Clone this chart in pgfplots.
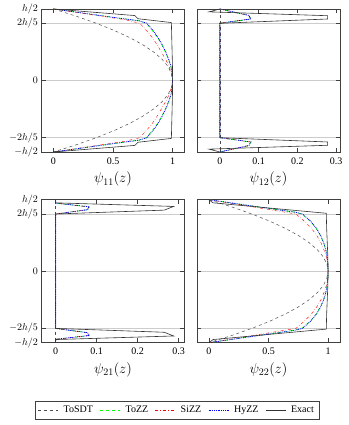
\documentclass[border=0pt]{standalone}
\usepackage{fontspec}
\setmainfont{Liberation Serif}
\usepackage{pgfplots}
\pgfplotsset{compat=1.18}
\pgfplotsset{
  psiax/.style={
    scale only axis, width=143pt, height=143pt,
    anchor=south west,
    ymin=-0.5, ymax=0.5,
    ytick={-0.5,-0.4,0,0.4,0.5},
    yticklabels={$-h/2$,$-2h/5$,$0$,$2h/5$,$h/2$},
    ymajorgrids, grid style={black!20, line width=0.6pt},
    axis line style={black!75, line width=0.8pt},
    tick style={black!75, line width=0.5pt},
    tick label style={font=\normalsize},
    /pgf/number format/assume math mode=true,
    xticklabel style={yshift=-2pt},
    xlabel style={font=\Large, yshift=-1pt},
    legend image code/.code={\draw[mark repeat=2,mark phase=2] plot coordinates {(0pt,0pt) (10pt,0pt) (20pt,0pt)};},
  },
  sdt/.style={black!70, dashed, line width=0.5pt},
  tzz/.style={green, dashed, line width=0.7pt},
  szz/.style={red, dash dot, line width=0.4pt},
  hzz/.style={blue, densely dotted, line width=0.8pt},
  exa/.style={black!80, line width=0.6pt},
}
\begin{document}
\begin{tikzpicture}
\useasboundingbox (0pt,0pt) rectangle (348pt,425pt);
% ---------------- psi_11
\begin{axis}[psiax, at={(41.5pt,273pt)}, xmin=-0.1, xmax=1.1, xtick={0,0.5,1}, xlabel={$\psi_{11}(z)$}]
\addplot[sdt] coordinates {(0,0.5) (0.19,0.45) (0.36,0.4) (0.51,0.35) (0.64,0.3) (0.75,0.25) (0.84,0.2) (0.91,0.15) (0.96,0.1) (0.99,0.05) (1,0) (0.99,-0.05) (0.96,-0.1) (0.91,-0.15) (0.84,-0.2) (0.75,-0.25) (0.64,-0.3) (0.51,-0.35) (0.36,-0.4) (0.19,-0.45) (0,-0.5)};
\addplot[tzz] coordinates {(0,0.5) (0.36,0.458) (0.72,0.417) (0.78,0.4) (0.83,0.35) (0.875,0.3) (0.91,0.25) (0.94,0.2) (0.965,0.15) (0.985,0.1) (0.996,0.05) (1,0) (0.996,-0.05) (0.985,-0.1) (0.965,-0.15) (0.94,-0.2) (0.91,-0.25) (0.875,-0.3) (0.83,-0.35) (0.78,-0.4) (0.72,-0.417) (0.36,-0.458) (0,-0.5)};
\addplot[szz] coordinates {(0,0.5) (0.36,0.455) (0.6,0.425) (0.725,0.4) (0.78,0.35) (0.83,0.3) (0.87,0.25) (0.905,0.2) (0.94,0.15) (0.97,0.1) (0.99,0.05) (1,0) (0.99,-0.05) (0.97,-0.1) (0.94,-0.15) (0.905,-0.2) (0.87,-0.25) (0.83,-0.3) (0.78,-0.35) (0.725,-0.4) (0.6,-0.425) (0.36,-0.455) (0,-0.5)};
\addplot[hzz] coordinates {(0,0.5) (0.36,0.458) (0.72,0.417) (0.785,0.4) (0.835,0.35) (0.878,0.3) (0.912,0.25) (0.942,0.2) (0.966,0.15) (0.986,0.1) (0.996,0.05) (1,0) (0.996,-0.05) (0.986,-0.1) (0.966,-0.15) (0.942,-0.2) (0.912,-0.25) (0.878,-0.3) (0.835,-0.35) (0.785,-0.4) (0.72,-0.417) (0.36,-0.458) (0,-0.5)};
\addplot[exa] coordinates {(0,0.5) (0.683,0.454) (0.71,0.432) (0.99,0.405) (0.99,0.4) (0.993,0.3) (0.996,0.2) (0.999,0.1) (1,0) (0.999,-0.1) (0.996,-0.2) (0.993,-0.3) (0.99,-0.4) (0.99,-0.405) (0.71,-0.432) (0.683,-0.454) (0,-0.5)};
\end{axis}
% ---------------- psi_12
\begin{axis}[psiax, at={(197pt,273pt)}, xmin=-0.059, xmax=0.31, xtick={0,0.1,0.2,0.3}, yticklabels={}, xlabel={$\psi_{12}(z)$}]
\addplot[sdt] coordinates {(0,0.5) (0,-0.5)};
\addplot[tzz] coordinates {(0,0.5) (0.075,0.455) (0.08,0.43) (0,0.4) (0,-0.4) (0.08,-0.43) (0.075,-0.455) (0,-0.5)};
\addplot[szz] coordinates {(0,0.5) (0.074,0.455) (0.079,0.43) (0,0.4) (0,-0.4) (0.079,-0.43) (0.074,-0.455) (0,-0.5)};
\addplot[hzz] coordinates {(0,0.5) (0.075,0.455) (0.08,0.43) (0,0.4) (0,-0.4) (0.08,-0.43) (0.075,-0.455) (0,-0.5)};
\addplot[exa] coordinates {(0,0.5) (-0.028,0.48) (0.278,0.453) (0.278,0.43) (0,0.4) (0,-0.4) (0.278,-0.43) (0.278,-0.453) (-0.028,-0.48) (0,-0.5)};
\end{axis}
% ---------------- psi_21
\begin{axis}[psiax, at={(41.5pt,82.3pt)}, xmin=-0.0345, xmax=0.3145, xtick={0,0.1,0.2,0.3}, xlabel={$\psi_{21}(z)$},
  legend columns=5,
  legend style={at={(0.9476,-0.472)}, anchor=center, font=\normalsize, draw=black!75, line width=0.6pt,
    inner ysep=3pt, inner xsep=3pt,
    /tikz/every odd column/.append style={column sep=3pt},
    /tikz/every even column/.append style={column sep=5pt}}]
\addplot[sdt] coordinates {(0,0.5) (0,-0.5)};
\addlegendentry{ToSDT}
\addplot[tzz] coordinates {(0,0.5) (0,0.476) (0.082,0.45) (0.078,0.43) (0,0.4) (0,-0.4) (0.078,-0.43) (0.082,-0.45) (0,-0.476) (0,-0.5)};
\addlegendentry{ToZZ}
\addplot[szz] coordinates {(0,0.5) (0,0.476) (0.081,0.45) (0.077,0.43) (0,0.4) (0,-0.4) (0.077,-0.43) (0.081,-0.45) (0,-0.476) (0,-0.5)};
\addlegendentry{SiZZ}
\addplot[hzz] coordinates {(0,0.5) (0,0.476) (0.082,0.45) (0.078,0.43) (0,0.4) (0,-0.4) (0.078,-0.43) (0.082,-0.45) (0,-0.476) (0,-0.5)};
\addlegendentry{HyZZ}
\addplot[exa] coordinates {(0,0.5) (0,0.478) (0.288,0.453) (0.265,0.427) (0,0.4) (0,-0.4) (0.265,-0.427) (0.288,-0.453) (0,-0.478) (0,-0.5)};
\addlegendentry{Exact}
\end{axis}
% ---------------- psi_22
\begin{axis}[psiax, at={(197pt,82.3pt)}, xmin=-0.1, xmax=1.1, xtick={0,0.5,1}, yticklabels={}, xlabel={$\psi_{22}(z)$}]
\addplot[sdt] coordinates {(0,0.5) (0.19,0.45) (0.36,0.4) (0.51,0.35) (0.64,0.3) (0.75,0.25) (0.84,0.2) (0.91,0.15) (0.96,0.1) (0.99,0.05) (1,0) (0.99,-0.05) (0.96,-0.1) (0.91,-0.15) (0.84,-0.2) (0.75,-0.25) (0.64,-0.3) (0.51,-0.35) (0.36,-0.4) (0.19,-0.45) (0,-0.5)};
\addplot[tzz] coordinates {(0,0.5) (0.72,0.413) (0.78,0.4) (0.85,0.35) (0.9,0.3) (0.935,0.25) (0.962,0.2) (0.98,0.15) (0.992,0.1) (0.998,0.05) (1,0) (0.998,-0.05) (0.992,-0.1) (0.98,-0.15) (0.962,-0.2) (0.935,-0.25) (0.9,-0.3) (0.85,-0.35) (0.78,-0.4) (0.72,-0.413) (0,-0.5)};
\addplot[szz] coordinates {(0,0.5) (0.73,0.4) (0.8,0.35) (0.86,0.3) (0.905,0.25) (0.94,0.2) (0.965,0.15) (0.985,0.1) (0.996,0.05) (1,0) (0.996,-0.05) (0.985,-0.1) (0.965,-0.15) (0.94,-0.2) (0.905,-0.25) (0.86,-0.3) (0.8,-0.35) (0.73,-0.4) (0,-0.5)};
\addplot[hzz] coordinates {(0,0.5) (0.72,0.413) (0.785,0.4) (0.853,0.35) (0.902,0.3) (0.937,0.25) (0.963,0.2) (0.981,0.15) (0.992,0.1) (0.998,0.05) (1,0) (0.998,-0.05) (0.992,-0.1) (0.981,-0.15) (0.963,-0.2) (0.937,-0.25) (0.902,-0.3) (0.853,-0.35) (0.785,-0.4) (0.72,-0.413) (0,-0.5)};
\addplot[exa] coordinates {(0,0.5) (0.035,0.478) (0.985,0.405) (0.985,0.4) (0.988,0.3) (0.993,0.2) (0.998,0.1) (1,0) (0.998,-0.1) (0.993,-0.2) (0.988,-0.3) (0.985,-0.4) (0.985,-0.405) (0.035,-0.478) (0,-0.5)};
\end{axis}
\end{tikzpicture}
\end{document}
